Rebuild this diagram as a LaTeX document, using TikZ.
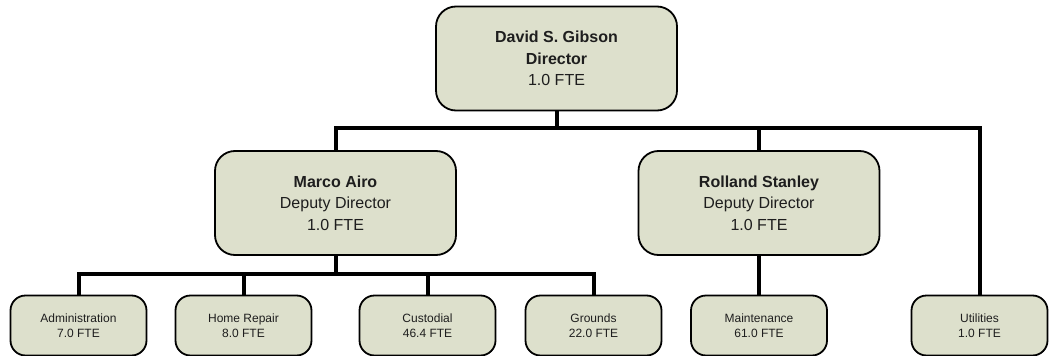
\documentclass[tikz,border=0pt]{standalone}
\usepackage{fontspec}
\setmainfont{Liberation Sans}
\definecolor{boxfill}{RGB}{221,224,204}
\definecolor{txt}{RGB}{30,30,30}
\begin{document}
\begin{tikzpicture}[x=1pt,y=-1pt,
  bigbox/.style={draw=black,line width=1.8pt,fill=boxfill,rounded corners=20pt,
    minimum width=241pt,minimum height=104pt,inner sep=0pt,align=center,
    font=\fontsize{16}{21.5}\selectfont,text=txt},
  smallbox/.style={draw=black,line width=1.8pt,fill=boxfill,rounded corners=15pt,
    minimum width=136pt,minimum height=60pt,inner sep=0pt,align=center,
    font=\fontsize{12}{15.5}\selectfont,text=txt},
  conn/.style={draw=black,line width=4pt}]
\useasboundingbox (0,0) rectangle (1055,356);
\node[bigbox] (top) at (556.5,58.5) {\textbf{David S. Gibson}\\\textbf{Director}\\1.0 FTE};
\node[bigbox] (marco) at (335.5,203) {\textbf{Marco Airo}\\Deputy Director\\1.0 FTE};
\node[bigbox] (rolland) at (759,203) {\textbf{Rolland Stanley}\\Deputy Director\\1.0 FTE};
\node[smallbox] (admin) at (78.5,325.5) {Administration\\7.0 FTE};
\node[smallbox] (home) at (243.5,325.5) {Home Repair\\8.0 FTE};
\node[smallbox] (cust) at (427.5,325.5) {Custodial\\46.4 FTE};
\node[smallbox] (grounds) at (593.5,325.5) {Grounds\\22.0 FTE};
\node[smallbox] (maint) at (759,325.5) {Maintenance\\61.0 FTE};
\node[smallbox] (util) at (979.5,325.5) {Utilities\\1.0 FTE};
\coordinate (bus1) at (556.5,128);
\coordinate (bus2) at (335.5,274);
\begin{scope}[on background layer/.style={}]
\draw[conn] (top.south) -- (bus1);
\draw[conn] (marco.north) |- (bus1) -| (util.north);
\draw[conn] (rolland.north) -- (rolland.north |- bus1);
\draw[conn] (marco.south) -- (bus2);
\draw[conn] (admin.north) |- (bus2) -| (grounds.north);
\draw[conn] (home.north) -- (home.north |- bus2);
\draw[conn] (cust.north) -- (cust.north |- bus2);
\draw[conn] (rolland.south) -- (maint.north);
\end{scope}
\end{tikzpicture}
\end{document}
